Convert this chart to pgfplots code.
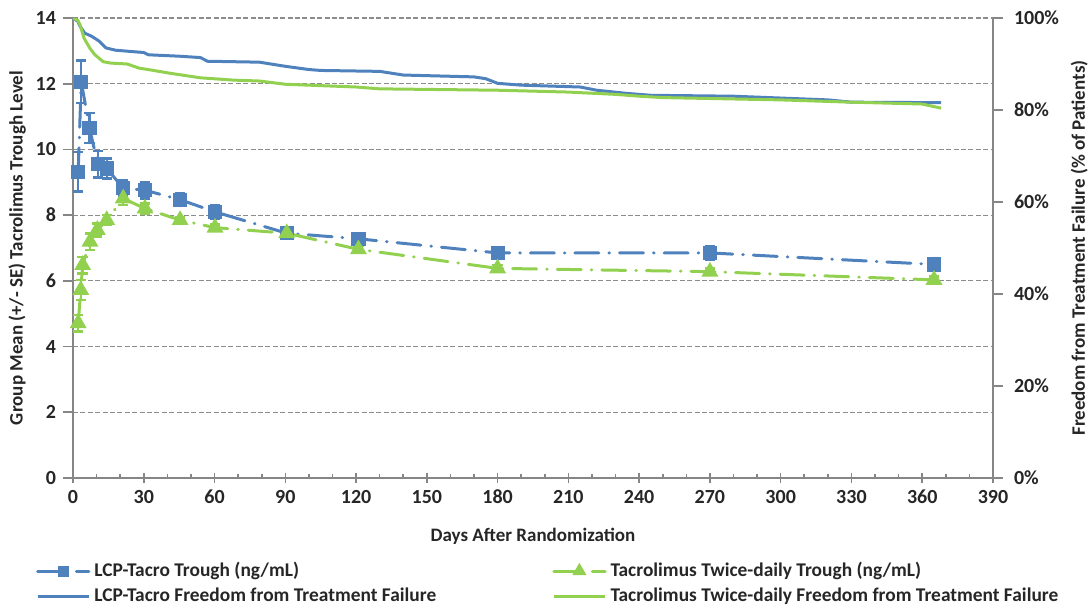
\documentclass[border=0pt]{standalone}
\usepackage{fontspec}
\setmainfont{Carlito}
\usepackage{pgfplots}
\pgfplotsset{compat=1.18}
\usepackage{pgfplotstable}
\definecolor{lcpblue}{RGB}{79,129,189}
\definecolor{tacgreen}{RGB}{146,208,80}
\definecolor{axgray}{RGB}{134,134,134}
\definecolor{gridgray}{RGB}{140,140,140}

% trough levels: day, mean, SE
\pgfplotstableread{
day val err
2.2 9.32 0.60
3.5 12.06 0.65
7 10.65 0.45
10.5 9.55 0.40
14.3 9.42 0.30
21.3 8.82 0.25
30.5 8.76 0.25
45.4 8.47 0.20
60.2 8.10 0.20
90.6 7.45 0.15
121 7.28 0.15
180 6.85 0.15
270 6.85 0.20
365 6.50 0.20
}\lcptrough

\pgfplotstableread{
day val err
2.2 4.71 0.25
3.3 5.72 0.30
4.1 6.48 0.25
7.2 7.19 0.25
10.3 7.55 0.20
14.3 7.85 0.15
21.3 8.51 0.20
30.5 8.20 0.15
45.4 7.85 0.10
60.2 7.62 0.10
90.6 7.45 0.15
121 6.96 0.10
180 6.38 0.10
270 6.28 0.10
365 6.03 0.10
}\tactrough

% freedom from treatment failure (%)
\pgfplotstableread{
day pct
0 100
2 99.3
3 98.2
5 96.7
8 96.0
11 95.0
14 93.5
18 93.0
25 92.7
30 92.5
32 92.0
45 91.7
54 91.4
57 90.6
79 90.4
90 89.5
100 88.8
105 88.6
130 88.4
140 87.6
170 87.2
175 86.8
180 85.8
190 85.4
215 85.0
222 84.3
235 83.6
245 83.2
280 83.0
300 82.6
320 82.2
330 81.7
368 81.6
}\lcpfree

\pgfplotstableread{
day pct
0 100
2 99.5
3 98.5
4.7 95.6
7.2 93.4
9.3 92.0
12.8 90.5
16 90.2
23 90.0
28 89.1
33 88.7
41 88.0
54 87.0
68 86.5
79 86.3
90 85.6
120 85.0
130 84.6
180 84.3
210 83.9
230 83.4
240 83.0
250 82.7
300 82.2
330 81.7
360 81.3
368 80.4
}\tacfree

\pgfplotsset{
  troughline/.style={line width=1.5pt, line cap=round,
    dash pattern=on 12pt off 5pt on 0.3pt off 5pt},
  lcpstyle/.style={lcpblue, troughline, mark=square*,
    mark size=2.8pt, mark options={solid, fill=lcpblue}},
  tacstyle/.style={tacgreen, troughline, mark=triangle*,
    mark size=3.4pt, mark options={solid, fill=tacgreen}},
}

\begin{document}
\begin{tikzpicture}[font=\bfseries]
\begin{axis}[
  at={(0,0)}, anchor=south west,
  scale only axis, width=460pt, height=230pt,
  xmin=0, xmax=390, ymin=0, ymax=14,
  xtick distance=30, minor x tick num=2,
  ytick={0,2,...,14},
  axis x line*=bottom, axis y line*=left,
  axis line style={axgray, line width=0.8pt},
  every tick/.style={axgray, line width=0.8pt},
  xtick align=center, major tick length=5pt, minor tick length=2pt,
  minor x tick style={yshift=1pt},
  ytick align=outside,
  ymajorgrids, grid style={gridgray, line width=0.6pt, dash pattern=on 2.5pt off 1.2pt},
  tick label style={font=\bfseries\fontsize{10}{11}\selectfont, black!85},
  /pgf/number format/assume math mode=true,
  label style={font=\bfseries\fontsize{9.5}{11}\selectfont, black!85},
  xlabel={Days After Randomization},
  xlabel style={yshift=-5pt},
  ylabel={Group Mean (+/- SE) Tacrolimus Trough Level},
  ylabel style={yshift=-2pt},
  clip=false,
]
\addplot[lcpstyle, error bars/.cd, y dir=both, y explicit,
  error bar style={solid, line width=1.2pt},
  error mark options={rotate=90, solid, line width=1.2pt, mark size=2.6pt, lcpblue}]
  table[x=day, y=val, y error=err] {\lcptrough};
\addplot[tacstyle, error bars/.cd, y dir=both, y explicit,
  error bar style={solid, line width=1.2pt},
  error mark options={rotate=90, solid, line width=1.2pt, mark size=2.6pt, tacgreen}]
  table[x=day, y=val, y error=err] {\tactrough};
\end{axis}

\begin{axis}[
  at={(0,0)}, anchor=south west,
  scale only axis, width=460pt, height=230pt,
  xmin=0, xmax=390, ymin=0, ymax=100,
  axis x line=none, axis y line*=right,
  axis line style={axgray, line width=0.8pt},
  every tick/.style={axgray, line width=0.8pt},
  ytick={0,20,...,100}, yticklabel={\pgfmathprintnumber{\tick}\%},
  ytick align=outside, major tick length=5pt,
  tick label style={font=\bfseries\fontsize{10}{11}\selectfont, black!85},
  yticklabel style={xshift=2pt},
  /pgf/number format/assume math mode=true,
  label style={font=\bfseries\fontsize{9.5}{11}\selectfont, black!85},
  ylabel={Freedom from Treatment Failure (\% of Patients)},
  ylabel style={yshift=1pt},
  legend columns=2,
  legend cell align=left,
  legend style={at={(-0.047,-0.165)}, anchor=north west, draw=none, fill=none,
    font=\bfseries\fontsize{9.7}{11}\selectfont, text=black!85,
    row sep=0pt,
    /tikz/every even column/.append style={column sep=56pt}},
  legend image code/.code={
    \draw[#1, mark repeat=2, mark phase=2] plot coordinates {(0cm,0cm) (0.45cm,0cm) (0.9cm,0cm)};},
]
\addlegendimage{lcpblue, line width=1.5pt, line cap=round, dash pattern=on 12pt off 2pt on 0.3pt off 5pt, mark=square*, mark size=2pt, mark options={solid}}
\addlegendentry{LCP-Tacro Trough (ng/mL)}
\addlegendimage{tacgreen, line width=1.5pt, line cap=round, dash pattern=on 12pt off 2pt on 0.3pt off 5pt, mark=triangle*, mark size=2.6pt, mark options={solid}}
\addlegendentry{Tacrolimus Twice-daily Trough (ng/mL)}
\addplot[lcpblue, line width=1.5pt, no marks] table[x=day, y=pct] {\lcpfree};
\addlegendentry{LCP-Tacro Freedom from Treatment Failure}
\addplot[tacgreen, line width=1.5pt, no marks] table[x=day, y=pct] {\tacfree};
\addlegendentry{Tacrolimus Twice-daily Freedom from Treatment Failure}
\end{axis}
\pgfresetboundingbox
\path[use as bounding box] (-36.5pt,-64.5pt) rectangle (508pt,239pt);
\end{tikzpicture}
\end{document}
